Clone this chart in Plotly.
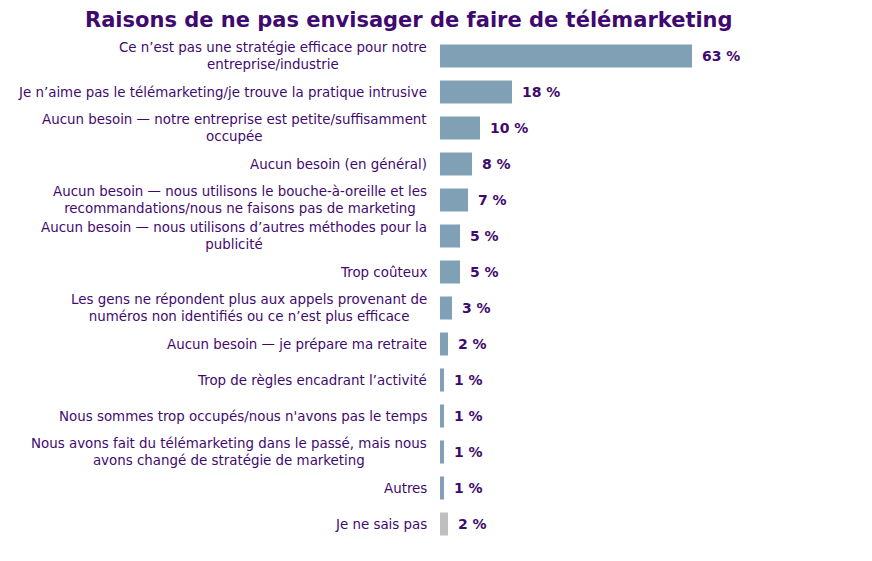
import plotly.graph_objects as go

categories = [
    "Ce n’est pas une stratégie efficace pour notre<br>entreprise/industrie",
    "Je n’aime pas le télémarketing/je trouve la pratique intrusive",
    "Aucun besoin — notre entreprise est petite/suffisamment<br>occupée",
    "Aucun besoin (en général)",
    "Aucun besoin — nous utilisons le bouche-à-oreille et les<br>recommandations/nous ne faisons pas de marketing",
    "Aucun besoin — nous utilisons d’autres méthodes pour la<br>publicité",
    "Trop coûteux",
    "Les gens ne répondent plus aux appels provenant de<br>numéros non identifiés ou ce n’est plus efficace",
    "Aucun besoin — je prépare ma retraite",
    "Trop de règles encadrant l’activité",
    "Nous sommes trop occupés/nous n'avons pas le temps",
    "Nous avons fait du télémarketing dans le passé, mais nous<br>avons changé de stratégie de marketing",
    "Autres",
    "Je ne sais pas",
]
values = [63, 18, 10, 8, 7, 5, 5, 3, 2, 1, 1, 1, 1, 2]
value_labels = [f"{v} %" for v in values]

BAR = "#80a0b6"
GREY = "#bfbfbf"
TXT = "#3f0a70"
colors = [BAR] * (len(values) - 1) + [GREY]

idx = list(range(len(categories)))

fig = go.Figure()
fig.add_trace(go.Bar(
    x=values, y=idx, orientation="h",
    marker=dict(color=colors, line=dict(width=0)),
    width=0.64, hoverinfo="skip",
))

annotations = []
for i, (c, v, lab) in enumerate(zip(categories, values, value_labels)):
    annotations.append(dict(
        x=0, y=i, xref="x", yref="y", text=c, showarrow=False,
        xanchor="right", yanchor="middle", align="center", xshift=-11,
        font=dict(family="Verdana, DejaVu Sans", size=13.4, color=TXT),
    ))
    annotations.append(dict(
        x=v, y=i, xref="x", yref="y", text=f"<b>{lab}</b>", showarrow=False,
        xanchor="left", yanchor="middle", xshift=8,
        font=dict(family="Verdana, DejaVu Sans", size=14, color=TXT),
    ))

fig.update_layout(
    width=872, height=561,
    margin=dict(l=440, r=32, t=38, b=19),
    paper_bgcolor="white", plot_bgcolor="white",
    showlegend=False,
    title=dict(
        text="<b>Raisons de ne pas envisager de faire de télémarketing</b>",
        x=85 / 872, xanchor="left", xref="container",
        y=1 - 20 / 561, yanchor="middle", yref="container",
        font=dict(family="Verdana, DejaVu Sans", size=21, color=TXT),
    ),
    xaxis=dict(range=[0, 100], visible=False, fixedrange=True),
    yaxis=dict(range=[13.5, -0.5], visible=False, fixedrange=True),
    annotations=annotations,
)

fig.write_html("out.html", config={"displayModeBar": False},
               post_script="document.body.style.margin='0';document.body.style.overflow='hidden';")
